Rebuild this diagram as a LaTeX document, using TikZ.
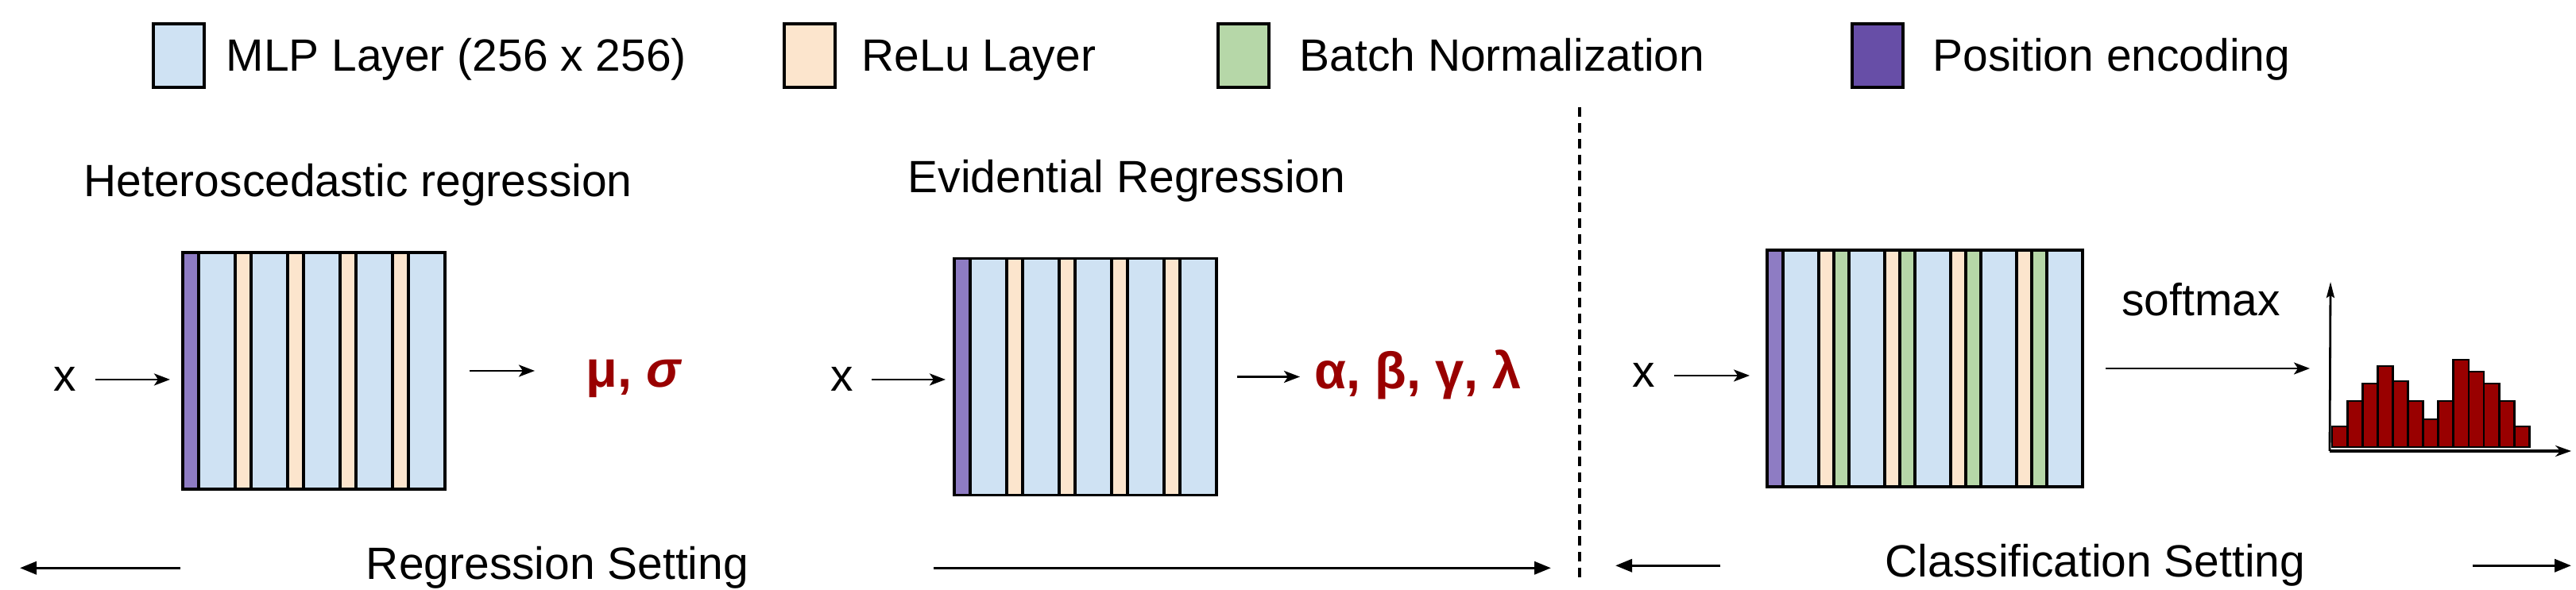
\documentclass[tikz,border=0pt]{standalone}
\usepackage{fontspec}
\setmainfont{Liberation Sans}
\usetikzlibrary{positioning,arrows.meta}

\definecolor{mlpblue}{HTML}{CFE2F3}
\definecolor{relutan}{HTML}{FCE5CD}
\definecolor{bngreen}{HTML}{B6D7A8}
\definecolor{pepurple}{HTML}{8E7CC3}
\definecolor{legpurple}{HTML}{674EA7}
\definecolor{outred}{HTML}{990000}

\tikzset{
  layer/.style={draw, line width=0.9pt, inner sep=0pt, outer sep=0pt, minimum height=2.98cm},
  mlp/.style={layer, fill=mlpblue, minimum width=0.46cm},
  relu/.style={layer, fill=relutan, minimum width=0.20cm},
  bnorm/.style={layer, fill=bngreen, minimum width=0.19cm},
  posenc/.style={layer, fill=pepurple, minimum width=0.20cm},
  legbox/.style={draw, line width=0.9pt, inner sep=0pt, minimum width=0.64cm, minimum height=0.80cm},
  txt/.style={inner sep=0pt, font=\fontsize{16.2}{19}\selectfont},
  outtxt/.style={inner sep=0pt, text=outred, font=\fontsize{18.5}{22}\selectfont\bfseries},
  thinarr/.style={line width=0.8pt, -{Stealth[length=0.2cm,width=0.15cm,inset=0.05cm]}},
  setarr/.style={line width=1pt, -{Triangle[length=0.21cm,width=0.16cm]}},
  bar/.style={draw, line width=0.8pt, fill=outred},
}

\begin{document}
\begin{tikzpicture}
\useasboundingbox (0,0) rectangle (32.42,7.43);

% legend
\node[legbox, fill=mlpblue] (lmlp) at (2.25,6.73) {};
\node[txt, anchor=base west] (tmlp) at (2.84,6.53) {MLP Layer (256 x 256)};
\node[legbox, fill=relutan] (lrelu) at (10.19,6.73) {};
\node[txt, anchor=base west] (trelu) at (10.84,6.53) {ReLu Layer};
\node[legbox, fill=bngreen] (lbn) at (15.65,6.73) {};
\node[txt, anchor=base west] (tbn) at (16.35,6.53) {Batch Normalization};
\node[legbox, fill=legpurple] (lpe) at (23.63,6.73) {};
\node[txt, anchor=base west] (tpe) at (24.32,6.53) {Position encoding};

% heteroscedastic regression
\node[txt, anchor=base west] (thet) at (1.05,4.95) {Heteroscedastic regression};
\node[posenc, anchor=west] (a0) at (2.30,2.76) {};
\foreach \s [count=\i] in {mlp,relu,mlp,relu,mlp,relu,mlp,relu,mlp}{
  \pgfmathtruncatemacro\j{\i-1}
  \node[\s, right=0pt of a\j] (a\i) {};
}
\node[txt, anchor=base] (xa) at (0.815,2.50) {x};
\node[outtxt, anchor=base west] (mu) at (7.37,2.55) {μ, \textit{σ}};
\draw[thinarr, shorten <=0.24cm, shorten >=0.16cm] (xa.east) -- (xa.east -| a0.west);
\draw[thinarr, shorten <=0.31cm, shorten >=0.64cm] (a9.east) -- (a9.east -| mu.west);

% evidential regression
\node[txt, anchor=base west] (tevi) at (11.42,5.00) {Evidential Regression};
\node[posenc, anchor=west] (b0) at (12.01,2.685) {};
\foreach \s [count=\i] in {mlp,relu,mlp,relu,mlp,relu,mlp,relu,mlp}{
  \pgfmathtruncatemacro\j{\i-1}
  \node[\s, right=0pt of b\j] (b\i) {};
}
\node[txt, anchor=base] (xb) at (10.60,2.50) {x};
\node[outtxt, anchor=base west] (abgl) at (16.54,2.53) {α, β, γ, λ};
\draw[thinarr, shorten <=0.22cm, shorten >=0.11cm] (xb.east) -- (xb.east -| b0.west);
\draw[thinarr, shorten <=0.26cm, shorten >=0.18cm] (b9.east) -- (b9.east -| abgl.west);

\draw[line width=1pt, dash pattern=on 0.12cm off 0.08cm] (19.88,6.08) -- (19.88,0.11);

% classification
\begin{scope}[mlp/.append style={minimum width=0.45cm}, relu/.append style={minimum width=0.19cm}]
\node[posenc, anchor=west] (c0) at (22.24,2.79) {};
\foreach \s [count=\i] in {mlp,relu,bnorm,mlp,relu,bnorm,mlp,relu,bnorm,mlp,relu,bnorm,mlp}{
  \pgfmathtruncatemacro\j{\i-1}
  \node[\s, right=0pt of c\j] (c\i) {};
}
\end{scope}
\node[txt, anchor=base] (xc) at (20.69,2.55) {x};
\draw[thinarr, shorten <=0.23cm, shorten >=0.22cm] (xc.east) -- (xc.east -| c0.west);

\coordinate (org) at (29.32,1.75);
\coordinate (ytop) at (29.33,3.88);
\coordinate (xend) at (32.36,1.75);
\node[txt, anchor=base] (smax) at (27.70,3.45) {softmax};
\draw[thinarr, shorten <=0.29cm, shorten >=0.25cm] (c13.east) -- (c13.east -| org);
\foreach \hgt [count=\i] in {0.26,0.58,0.80,1.02,0.83,0.58,0.35,0.58,1.10,0.95,0.80,0.58,0.26}
  \draw[bar] ({29.35+0.191*(\i-1)},1.80) rectangle ++(0.191,\hgt);
\draw[line width=0.8pt, -{Stealth[length=0.2cm,width=0.1cm,inset=0.03cm]}] (org) -- (ytop);
\draw[line width=1pt, -{Stealth[length=0.2cm,width=0.14cm]}] (org) -- (xend);

% settings
\coordinate (rl) at (0.25,0.31);
\coordinate (rr) at (19.52,0.31);
\coordinate (cl) at (20.33,0.31);
\coordinate (cr) at (32.36,0.31);
\node[txt, anchor=base] (regset) at (7.015,0.13) {Regression Setting};
\node[txt, anchor=base] (clsset) at (26.37,0.16) {Classification Setting};
\draw[setarr, shorten <=2.33cm] (regset.west) -- (regset.west -| rl);
\draw[setarr, shorten <=2.32cm] (regset.east) -- (regset.east -| rr);
\draw[setarr, shorten <=2.07cm] (clsset.west) -- (clsset.west -| cl);
\draw[setarr, shorten <=2.10cm] (clsset.east) -- (clsset.east -| cr);

\end{tikzpicture}
\end{document}
